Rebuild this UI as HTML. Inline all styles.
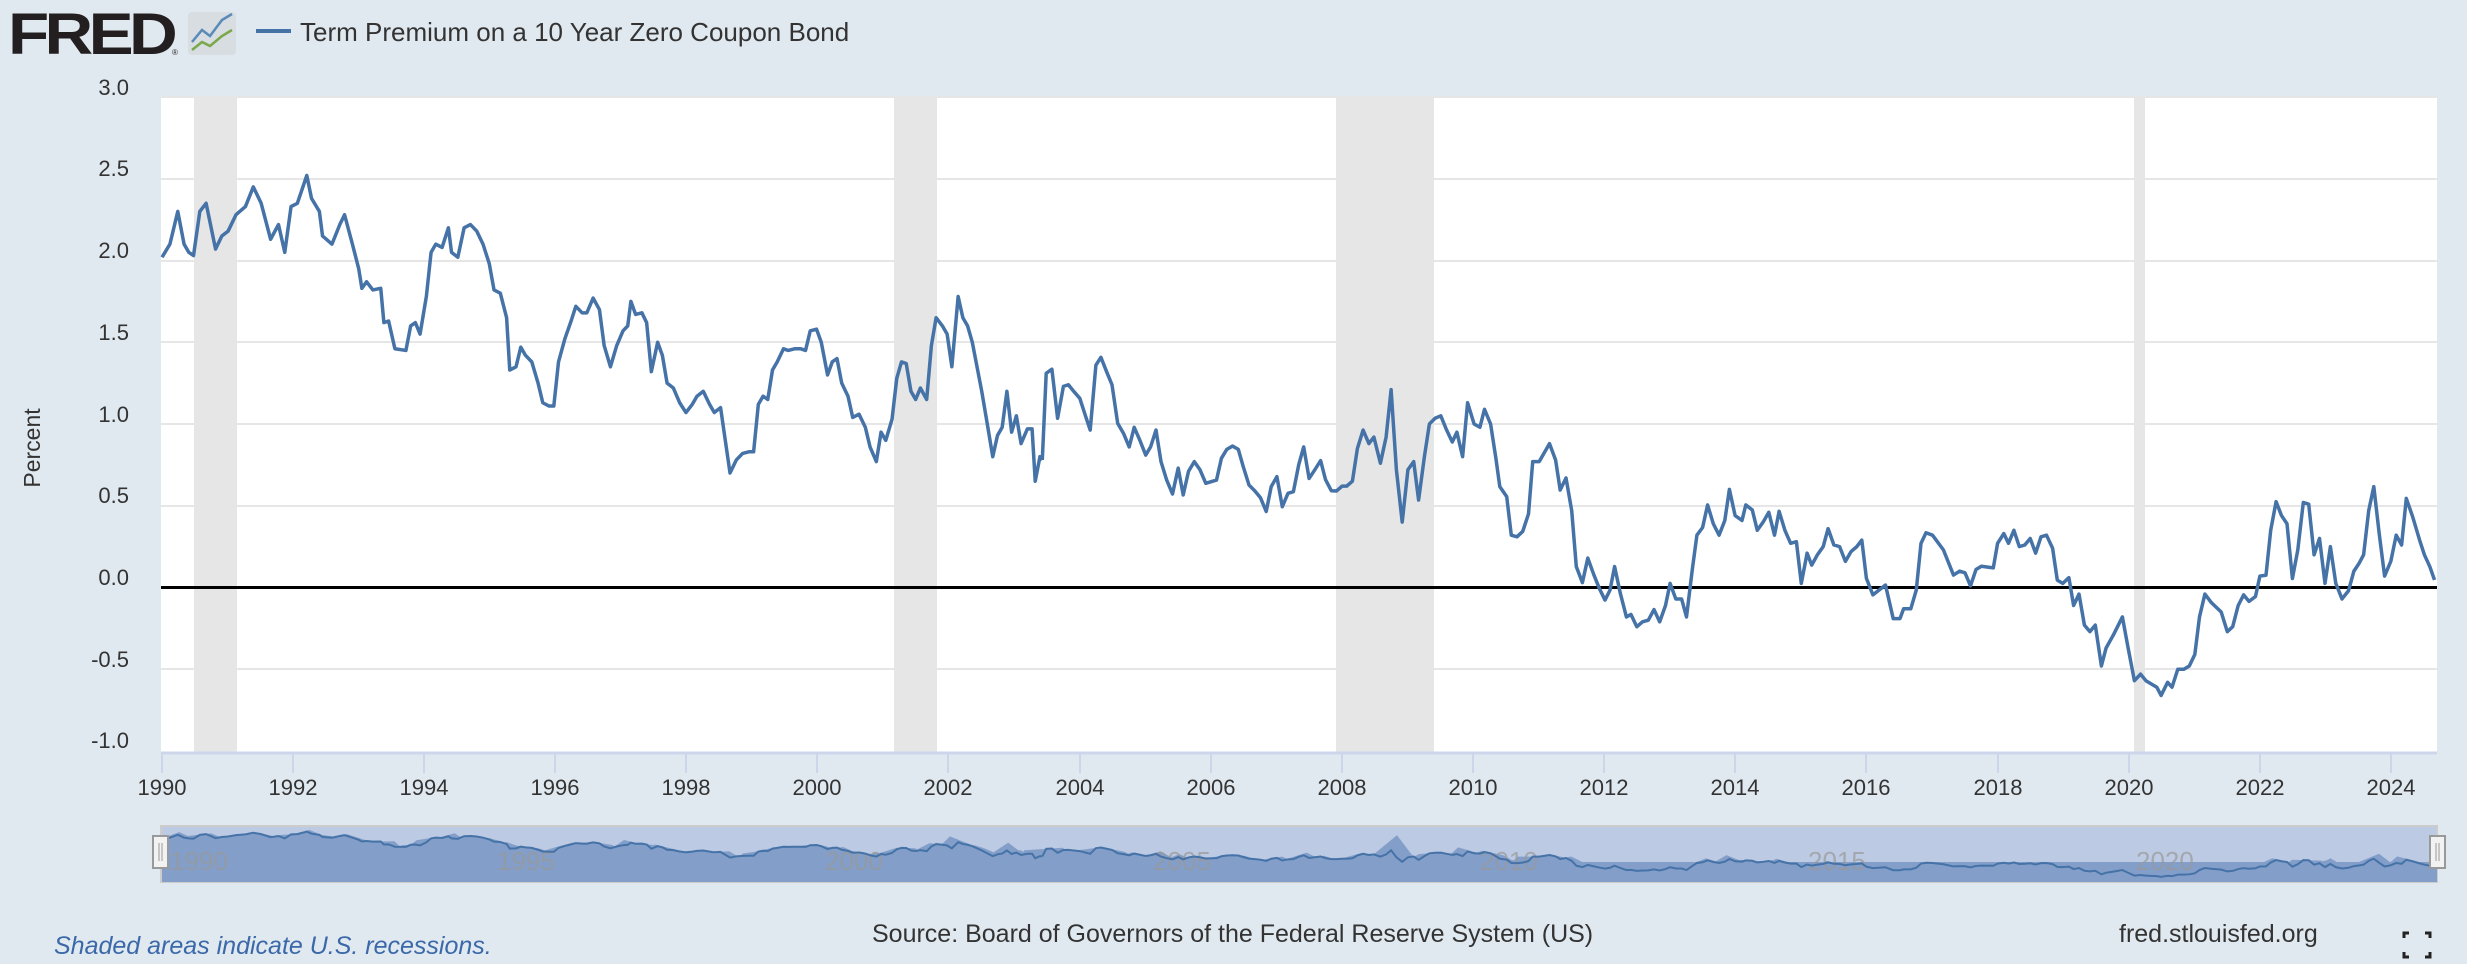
<!DOCTYPE html>
<html><head><meta charset="utf-8"><style>
html,body{margin:0;padding:0;width:2467px;height:964px;background:#e1e9f0;overflow:hidden;font-family:"Liberation Sans",sans-serif;}
</style></head><body>
<svg width="2467" height="964" viewBox="0 0 2467 964" xmlns="http://www.w3.org/2000/svg" style="position:absolute;left:0;top:0">
<rect width="2467" height="964" fill="#e1e9f0"/>
<text x="8" y="54" font-family="Liberation Sans" font-weight="bold" font-size="58" fill="#231f20" letter-spacing="-4" textLength="165" lengthAdjust="spacingAndGlyphs">FRED</text>
<text x="172" y="55" font-size="8" fill="#231f20">®</text>
<rect x="188" y="12" width="48" height="43" rx="4" fill="#d8dde2"/>
<polyline points="192,42 202,30 210,36 222,20 232,14" fill="none" stroke="#5a8ab8" stroke-width="2.5"/>
<polyline points="192,50 202,42 210,46 222,36 232,30" fill="none" stroke="#7aa84a" stroke-width="2.5"/>
<line x1="256" y1="31" x2="291" y2="31" stroke="#4572a7" stroke-width="4"/>
<text x="300" y="41" font-size="26" fill="#333">Term Premium on a 10 Year Zero Coupon Bond</text>
<rect x="161" y="97" width="2276" height="655" fill="#fff"/>
<g fill="#e6e6e6">
<rect x="194" y="97" width="43" height="655"/>
<rect x="894" y="97" width="43" height="655"/>
<rect x="1336" y="97" width="98" height="655"/>
<rect x="2134" y="97" width="11" height="655"/>
</g>
<g stroke="#e6e6e6" stroke-width="2">
<line x1="161" x2="2437" y1="97" y2="97"/><line x1="161" x2="2437" y1="179" y2="179"/>
<line x1="161" x2="2437" y1="261" y2="261"/><line x1="161" x2="2437" y1="342" y2="342"/>
<line x1="161" x2="2437" y1="424" y2="424"/><line x1="161" x2="2437" y1="506" y2="506"/>
<line x1="161" x2="2437" y1="669" y2="669"/>
</g>
<line x1="161" x2="2437" y1="587.5" y2="587.5" stroke="#000" stroke-width="3"/>
<g font-size="22" fill="#333" text-anchor="end">
<text x="129" y="95">3.0</text><text x="129" y="176">2.5</text><text x="129" y="258">2.0</text>
<text x="129" y="340">1.5</text><text x="129" y="422">1.0</text><text x="129" y="503">0.5</text>
<text x="129" y="585">0.0</text><text x="129" y="667">-0.5</text><text x="129" y="748">-1.0</text>
</g>
<text transform="translate(40,448) rotate(-90)" font-size="23" fill="#333" text-anchor="middle">Percent</text>
<line x1="161" x2="2437" y1="753" y2="753" stroke="#ccd6eb" stroke-width="3"/>
<g stroke="#ccd6eb" stroke-width="2">
<line x1="162" x2="162" y1="753" y2="773"/><line x1="293" x2="293" y1="753" y2="773"/><line x1="424" x2="424" y1="753" y2="773"/><line x1="555" x2="555" y1="753" y2="773"/><line x1="686" x2="686" y1="753" y2="773"/><line x1="817" x2="817" y1="753" y2="773"/><line x1="948" x2="948" y1="753" y2="773"/><line x1="1080" x2="1080" y1="753" y2="773"/><line x1="1211" x2="1211" y1="753" y2="773"/><line x1="1342" x2="1342" y1="753" y2="773"/><line x1="1473" x2="1473" y1="753" y2="773"/><line x1="1604" x2="1604" y1="753" y2="773"/><line x1="1735" x2="1735" y1="753" y2="773"/><line x1="1866" x2="1866" y1="753" y2="773"/><line x1="1998" x2="1998" y1="753" y2="773"/><line x1="2129" x2="2129" y1="753" y2="773"/><line x1="2260" x2="2260" y1="753" y2="773"/><line x1="2391" x2="2391" y1="753" y2="773"/>
</g>
<g font-size="22" fill="#333" text-anchor="middle">
<text x="162" y="795">1990</text><text x="293" y="795">1992</text><text x="424" y="795">1994</text><text x="555" y="795">1996</text><text x="686" y="795">1998</text><text x="817" y="795">2000</text><text x="948" y="795">2002</text><text x="1080" y="795">2004</text><text x="1211" y="795">2006</text><text x="1342" y="795">2008</text><text x="1473" y="795">2010</text><text x="1604" y="795">2012</text><text x="1735" y="795">2014</text><text x="1866" y="795">2016</text><text x="1998" y="795">2018</text><text x="2129" y="795">2020</text><text x="2260" y="795">2022</text><text x="2391" y="795">2024</text>
</g>
<defs>
<polyline id="a" vector-effect="non-scaling-stroke" points="103,2.02 108,2.1 113,2.3 117,2.1 120,2.05 123,2.03 127,2.3 131,2.35 137,2.07 141,2.15 145,2.18 150,2.28 156,2.33 161,2.45 166,2.35 172,2.13 177,2.22 181,2.05 185,2.33 189,2.35 195,2.52 198,2.38 203,2.3 205,2.15 211,2.1 216,2.22 219,2.28 224,2.1 228,1.95 230,1.83 233,1.87 237,1.82 242,1.83 244,1.62 247,1.63 251,1.46 258,1.45 261,1.6 264,1.62 267,1.55 271,1.78 274,2.05 277,2.1 281,2.08 285,2.2 287,2.05 291,2.02 295,2.2 299,2.22 303,2.18 307,2.1 311,1.98 314,1.82 318,1.8 322,1.65 324,1.33 328,1.35 331,1.47 334,1.42 338,1.38 342,1.25 345,1.13 349,1.11 352,1.11 355,1.38 359,1.52 363,1.63 366,1.72 370,1.68 373,1.68 377,1.77 381,1.7 384,1.48 388,1.35 392,1.48 396,1.57 399,1.6 401,1.75 404,1.67 408,1.68 411,1.62 414,1.32 418,1.5 421,1.42 424,1.25 428,1.22 432,1.13 436,1.07 440,1.12 443,1.17 447,1.2 451,1.12 454,1.07 458,1.1 461,0.9 464,0.7 468,0.78 472,0.82 476,0.83 479,0.83 482,1.12 485,1.17 488,1.15 491,1.33 494,1.38 498,1.46 501,1.45 505,1.46 509,1.46 512,1.45 515,1.57 519,1.58 522,1.5 526,1.3 529,1.38 532,1.4 535,1.25 539,1.17 542,1.04 546,1.06 550,0.98 553,0.86 557,0.77 560,0.95 563,0.9 567,1.03 570,1.28 573,1.38 576,1.37 579,1.2 582,1.15 585,1.22 589,1.15 592,1.48 595,1.65 599,1.6 602,1.55 605,1.35 609,1.78 612,1.65 615,1.6 618,1.5 621,1.35 624,1.2 627,1.03 631,0.8 634,0.93 637,0.98 640,1.2 643,0.95 646,1.05 649,0.88 653,0.97 656,0.97 658,0.65 661,0.8 662.5,0.78"/>
<polyline id="b" vector-effect="non-scaling-stroke" points="1042.3,0.78 1046.2,1.31 1051.9,1.335 1057.6,1.035 1063.4,1.23 1068.4,1.24 1073.7,1.2 1079.8,1.157 1085.2,1.055 1090.2,0.963 1095.9,1.36 1100.9,1.408 1106.6,1.32 1112,1.24 1117.7,1.004 1123.5,0.943 1129.2,0.86 1134.2,0.98 1139.9,0.9 1145.7,0.81 1150.6,0.86 1156,0.963 1161,0.77 1166.7,0.657 1172.5,0.572 1178.2,0.73 1183.2,0.566 1188.5,0.71 1194.3,0.77 1200,0.72 1205.8,0.637 1216.5,0.657 1221.4,0.79 1226.8,0.845 1232.5,0.865 1238.3,0.845 1243.2,0.74 1249,0.627 1254.7,0.592 1260.4,0.55 1266.2,0.465 1271.2,0.617 1276.9,0.678 1282.3,0.494 1288,0.576 1293.4,0.586 1298.7,0.75 1303.7,0.86 1309.1,0.667 1314.8,0.72 1320.6,0.776 1325.5,0.66 1331.3,0.592 1336.4,0.59 1342.1,0.62 1346.7,0.62 1352.4,0.65 1357.4,0.85 1363.1,0.963 1368.9,0.88 1373.9,0.92 1380.4,0.76 1386.1,0.92 1391.1,1.21 1396.4,0.72 1402.2,0.4 1407.9,0.72 1413.7,0.77 1418.6,0.535 1424.4,0.8 1429.4,1 1435.1,1.035 1440.8,1.05 1446.6,0.963 1452.3,0.89 1456.9,0.95 1462.6,0.8 1467.6,1.13 1474.1,1 1479.9,0.98 1484.5,1.09 1490.6,1 1495.9,0.79 1499.8,0.617 1506.7,0.556 1511.3,0.32 1517,0.31 1522.7,0.343 1528.5,0.45 1532.7,0.77 1539.2,0.77 1549.5,0.88 1555.6,0.78 1560.2,0.596 1566,0.67 1571.7,0.47 1576.3,0.128 1582.4,0.03 1587.8,0.18 1593.9,0.077 1599.3,-0.005 1605,-0.077 1610,-0.016 1614.6,0.128 1620.3,-0.035 1626.4,-0.18 1631,-0.165 1636.8,-0.24 1642.5,-0.21 1648.3,-0.2 1654,-0.135 1659.7,-0.21 1665.5,-0.11 1670.1,0.025 1675.8,-0.07 1681.6,-0.07 1686.5,-0.18 1692.3,0.11 1696.9,0.32 1702.6,0.367 1707.6,0.505 1713.3,0.39 1719.1,0.32 1724.8,0.41 1729.4,0.6 1735.1,0.44 1742,0.41 1745.8,0.505 1752.3,0.474 1757.3,0.35 1763.1,0.4 1768.8,0.46 1774.5,0.32 1779.1,0.466 1784.9,0.35 1790.6,0.27 1796.4,0.28 1801.3,0.025 1807.1,0.21 1811.7,0.137 1817.4,0.2 1823.2,0.25 1828.1,0.36 1833.9,0.26 1839.6,0.25 1845.4,0.16 1851.1,0.22 1856.8,0.25 1861.8,0.29 1866.4,0.056 1872.9,-0.045 1885.5,0.015 1893.2,-0.19 1900,-0.19 1903.6,-0.13 1910.8,-0.13 1916.3,-0.015 1921,0.27 1926,0.335 1932.5,0.32 1943.4,0.23 1953.5,0.076 1959.7,0.1 1965,0.09 1970.5,0.01 1976,0.11 1981.4,0.13 1993.3,0.12 1997.6,0.27 2003.8,0.33 2008.5,0.27 2013.9,0.35 2019.3,0.25 2024.8,0.26 2030.2,0.3 2035.6,0.21 2041,0.31 2046.5,0.32 2052.6,0.24 2057.3,0.045 2062.7,0.025 2068.9,0.06 2073.6,-0.11 2079,-0.04 2084.4,-0.23 2089.9,-0.27 2095.3,-0.23 2101.4,-0.48 2106.1,-0.37 2113.4,-0.29 2122.4,-0.18 2127.8,-0.36 2134.4,-0.57 2140.5,-0.53 2145.9,-0.57 2156.8,-0.61 2161.1,-0.66 2167.6,-0.58 2172,-0.61 2177.8,-0.5 2183.9,-0.5 2189.3,-0.48 2194.8,-0.41 2199.5,-0.18 2204.9,-0.04 2211,-0.09 2221.2,-0.15 2227.3,-0.27 2232.7,-0.24 2238.2,-0.11 2243.6,-0.045 2249,-0.085 2255.5,-0.055 2259.9,0.07 2266,0.075 2270.7,0.35 2276.1,0.525 2281.5,0.44 2287,0.39 2292.4,0.055 2297.8,0.23 2303.3,0.52 2308.7,0.51 2314.1,0.2 2319.5,0.3 2325,0.025 2330.4,0.25 2335.8,0.025 2342,-0.07 2348.5,-0.02 2353.9,0.1 2359.3,0.15 2363.6,0.2 2368.7,0.47 2373.8,0.617 2379.2,0.33 2384.6,0.07 2390.8,0.16 2396.2,0.32 2401.6,0.26 2406.3,0.545 2412.8,0.43 2420.1,0.28 2424.4,0.2 2429.8,0.128 2434.5,0.046"/>
<clipPath id="navclip"><rect x="162" y="827" width="2275" height="55"/></clipPath>
</defs>
<g fill="none" stroke="#4572a7" stroke-width="3.5" stroke-linejoin="round">
<use href="#a" transform="matrix(1.5733 0 0 -163.5 0 587.5)"/>
<use href="#b" transform="matrix(1 0 0 -163.5 0 587.5)"/>
</g>
<!-- navigator -->
<rect x="161" y="826" width="2276" height="56" fill="#bccae3" stroke="#cccccc" stroke-width="2"/>
<g clip-path="url(#navclip)" fill="none" stroke="#839fc9" stroke-width="70">
<use href="#a" transform="matrix(1.5733 0 0 -14.2 0 902.5)"/>
<use href="#b" transform="matrix(1 0 0 -14.2 0 902.5)"/>
<rect x="162" y="862" width="2273" height="20" fill="#839fc9" stroke="none"/>
</g>
<g font-size="26" fill="#999" opacity="0.7">
<text x="170" y="870">1990</text><text x="497" y="870">1995</text><text x="825" y="870">2000</text><text x="1153" y="870">2005</text><text x="1480" y="870">2010</text><text x="1808" y="870">2015</text><text x="2136" y="870">2020</text>
</g>
<g fill="none" stroke="#4572a7" stroke-width="2">
<use href="#a" transform="matrix(1.5733 0 0 -14.2 0 867.5)"/>
<use href="#b" transform="matrix(1 0 0 -14.2 0 867.5)"/>
</g>
<rect x="153" y="836" width="15" height="32" fill="#f2f2f2" stroke="#999" stroke-width="2"/>
<line x1="159" y1="843" x2="159" y2="861" stroke="#999"/><line x1="162" y1="843" x2="162" y2="861" stroke="#999"/>
<rect x="2430" y="836" width="15" height="32" fill="#f2f2f2" stroke="#999" stroke-width="2"/>
<line x1="2436" y1="843" x2="2436" y2="861" stroke="#999"/><line x1="2439" y1="843" x2="2439" y2="861" stroke="#999"/>
<text x="54" y="954" font-size="25" font-style="italic" fill="#3a68a8">Shaded areas indicate U.S. recessions.</text>
<text x="872" y="942" font-size="25" fill="#333">Source: Board of Governors of the Federal Reserve System (US)</text>
<text x="2119" y="942" font-size="25" fill="#333">fred.stlouisfed.org</text>
<g stroke="#222" stroke-width="3" fill="none">
<polyline points="2404,938 2404,933 2409,933"/><polyline points="2425,933 2430,933 2430,938"/>
<polyline points="2404,952 2404,957 2409,957"/><polyline points="2425,957 2430,957 2430,952"/>
</g>
</svg>
</body></html>
